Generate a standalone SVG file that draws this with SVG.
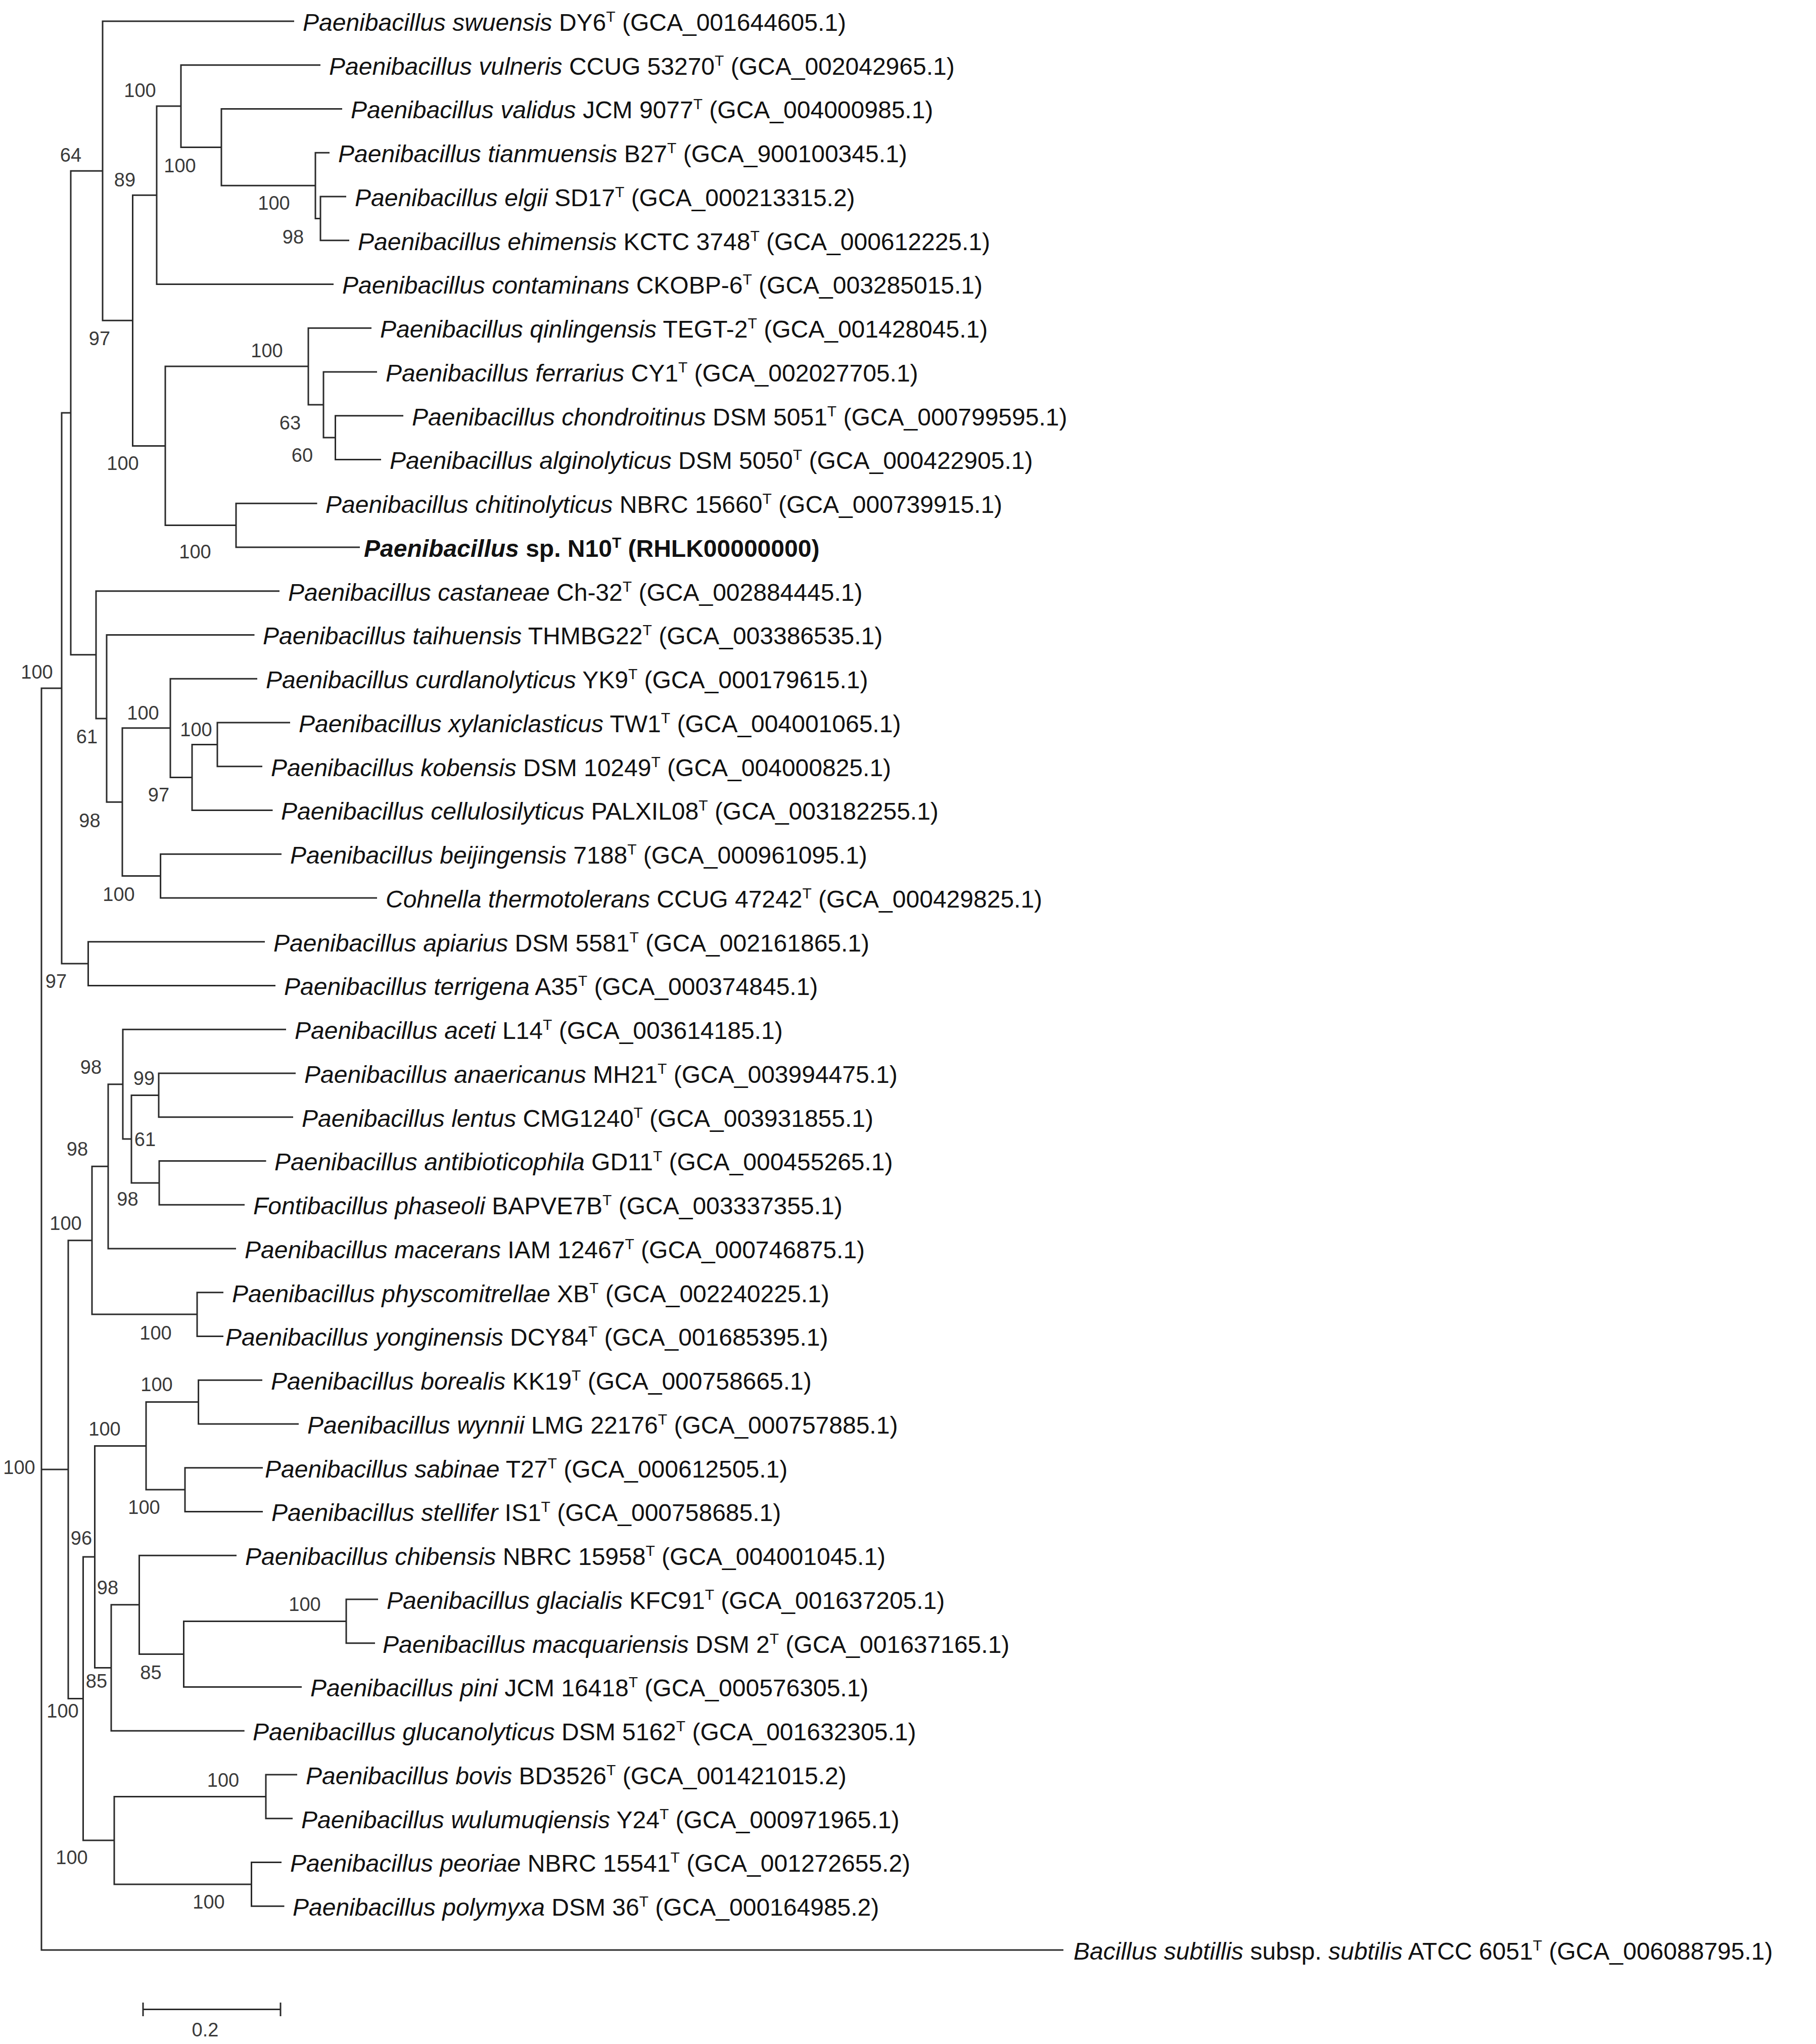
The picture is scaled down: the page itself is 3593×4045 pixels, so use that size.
<svg xmlns="http://www.w3.org/2000/svg" width="3593" height="4045" viewBox="0 0 3593 4045">
<style>
.e{fill:none;stroke:#2a2a2a;stroke-width:3}
.l{font-family:"Liberation Sans",Arial,sans-serif;font-size:48px;fill:#111}
.i{font-style:italic}
.b{font-family:"Liberation Sans",Arial,sans-serif;font-size:38px;fill:#3a3a3a;text-anchor:middle}
</style>
<rect width="3593" height="4045" fill="#fff"/>
<g id="connectors" class="e">
<path d="M122,1362 H82 V3859 H2104 M82,2908.1 H135"/>
<path d="M140,817 H122 V1907.1 H174.5"/>
<path d="M203,338.2 H140 V1295.8 H190"/>
<path d="M582,42 H203 V634.3 H262.5"/>
<path d="M310,386.3 H262.5 V882.4 H327"/>
<path d="M358,210 H310 V562.5 H660"/>
<path d="M634,128.75 H358 V291.4 H438"/>
<path d="M677,215.5 H438 V367.3 H624"/>
<path d="M652,302.25 H624 V432.4 H634"/>
<path d="M685,389 H634 V475.75 H691"/>
<path d="M610,725.1 H327 V1039.6 H467"/>
<path d="M735,649.25 H610 V801 H640"/>
<path d="M746,736 H640 V866.1 H663.5"/>
<path d="M798,822.75 H663.5 V909.5 H754"/>
<path d="M627.5,996.25 H467 V1083 H712"/>
<path d="M553,1169.75 H190 V1421.9 H211"/>
<path d="M503.5,1256.5 H211 V1587.2 H242"/>
<path d="M337,1440.8 H242 V1733.6 H317.6"/>
<path d="M509,1343.25 H337 V1538.4 H380"/>
<path d="M430,1473.4 H380 V1603.5 H539.5"/>
<path d="M574,1430 H430 V1516.75 H519"/>
<path d="M557,1690.25 H317.6 V1777 H746"/>
<path d="M524,1863.75 H174.5 V1950.5 H545"/>
<path d="M214,2308.3 H182 V2601.1 H390 M182,2454.7 H135 V3361.5 H164.5"/>
<path d="M243,2145.7 H214 V2471 H467"/>
<path d="M566,2037.25 H243 V2254.1 H260"/>
<path d="M314,2167.4 H260 V2340.9 H315"/>
<path d="M585,2124 H314 V2210.75 H580"/>
<path d="M526.5,2297.5 H315 V2384.25 H484"/>
<path d="M442,2557.75 H390 V2644.5 H442"/>
<path d="M187.5,3081 H164.5 V3642.1 H226"/>
<path d="M289,2861.4 H187.5 V3300.5 H220"/>
<path d="M392.6,2774.6 H289 V2948.1 H366"/>
<path d="M519,2731.25 H392.6 V2818 H591"/>
<path d="M520,2904.75 H366 V2991.5 H520"/>
<path d="M275.5,3175.8 H220 V3425.25 H483.7"/>
<path d="M468,3078.25 H275.5 V3273.4 H363.5"/>
<path d="M685,3208.4 H363.5 V3338.5 H597"/>
<path d="M748,3165 H685 V3251.75 H742"/>
<path d="M526,3555.4 H226 V3728.9 H497.5"/>
<path d="M588,3512 H526 V3598.75 H579"/>
<path d="M557,3685.5 H497.5 V3772.25 H562.5"/>
<path d="M283,3976.5 H555 M283,3963 V3990 M555,3963 V3990"/>
</g>
<g id="leaves" class="l">
<g id="t1"><text x="599" y="61"><tspan class="i">Paenibacillus swuensis</tspan> DY6<tspan font-size="30" dy="-18">T</tspan><tspan dy="18"> (GCA_001644605.1)</tspan></text></g>
<g id="t2"><text x="651" y="148"><tspan class="i">Paenibacillus vulneris</tspan> CCUG 53270<tspan font-size="30" dy="-18">T</tspan><tspan dy="18"> (GCA_002042965.1)</tspan></text></g>
<g id="t3"><text x="694" y="234"><tspan class="i">Paenibacillus validus</tspan> JCM 9077<tspan font-size="30" dy="-18">T</tspan><tspan dy="18"> (GCA_004000985.1)</tspan></text></g>
<g id="t4"><text x="669" y="321"><tspan class="i">Paenibacillus tianmuensis</tspan> B27<tspan font-size="30" dy="-18">T</tspan><tspan dy="18"> (GCA_900100345.1)</tspan></text></g>
<g id="t5"><text x="702" y="408"><tspan class="i">Paenibacillus elgii</tspan> SD17<tspan font-size="30" dy="-18">T</tspan><tspan dy="18"> (GCA_000213315.2)</tspan></text></g>
<g id="t6"><text x="708" y="495"><tspan class="i">Paenibacillus ehimensis</tspan> KCTC 3748<tspan font-size="30" dy="-18">T</tspan><tspan dy="18"> (GCA_000612225.1)</tspan></text></g>
<g id="t7"><text x="677" y="581"><tspan class="i">Paenibacillus contaminans</tspan> CKOBP-6<tspan font-size="30" dy="-18">T</tspan><tspan dy="18"> (GCA_003285015.1)</tspan></text></g>
<g id="t8"><text x="752" y="668"><tspan class="i">Paenibacillus qinlingensis</tspan> TEGT-2<tspan font-size="30" dy="-18">T</tspan><tspan dy="18"> (GCA_001428045.1)</tspan></text></g>
<g id="t9"><text x="763" y="755"><tspan class="i">Paenibacillus ferrarius</tspan> CY1<tspan font-size="30" dy="-18">T</tspan><tspan dy="18"> (GCA_002027705.1)</tspan></text></g>
<g id="t10"><text x="815" y="842"><tspan class="i">Paenibacillus chondroitinus</tspan> DSM 5051<tspan font-size="30" dy="-18">T</tspan><tspan dy="18"> (GCA_000799595.1)</tspan></text></g>
<g id="t11"><text x="771" y="928"><tspan class="i">Paenibacillus alginolyticus</tspan> DSM 5050<tspan font-size="30" dy="-18">T</tspan><tspan dy="18"> (GCA_000422905.1)</tspan></text></g>
<g id="t12"><text x="644" y="1015"><tspan class="i">Paenibacillus chitinolyticus</tspan> NBRC 15660<tspan font-size="30" dy="-18">T</tspan><tspan dy="18"> (GCA_000739915.1)</tspan></text></g>
<g id="t13"><text x="720" y="1102" font-weight="bold"><tspan class="i">Paenibacillus</tspan> sp. N10<tspan font-size="30" dy="-18">T</tspan><tspan dy="18"> (RHLK00000000)</tspan></text></g>
<g id="t14"><text x="570" y="1189"><tspan class="i">Paenibacillus castaneae</tspan> Ch-32<tspan font-size="30" dy="-18">T</tspan><tspan dy="18"> (GCA_002884445.1)</tspan></text></g>
<g id="t15"><text x="520" y="1275"><tspan class="i">Paenibacillus taihuensis</tspan> THMBG22<tspan font-size="30" dy="-18">T</tspan><tspan dy="18"> (GCA_003386535.1)</tspan></text></g>
<g id="t16"><text x="526" y="1362"><tspan class="i">Paenibacillus curdlanolyticus</tspan> YK9<tspan font-size="30" dy="-18">T</tspan><tspan dy="18"> (GCA_000179615.1)</tspan></text></g>
<g id="t17"><text x="591" y="1449"><tspan class="i">Paenibacillus xylaniclasticus</tspan> TW1<tspan font-size="30" dy="-18">T</tspan><tspan dy="18"> (GCA_004001065.1)</tspan></text></g>
<g id="t18"><text x="536" y="1536"><tspan class="i">Paenibacillus kobensis</tspan> DSM 10249<tspan font-size="30" dy="-18">T</tspan><tspan dy="18"> (GCA_004000825.1)</tspan></text></g>
<g id="t19"><text x="556" y="1622"><tspan class="i">Paenibacillus cellulosilyticus</tspan> PALXIL08<tspan font-size="30" dy="-18">T</tspan><tspan dy="18"> (GCA_003182255.1)</tspan></text></g>
<g id="t20"><text x="574" y="1709"><tspan class="i">Paenibacillus beijingensis</tspan> 7188<tspan font-size="30" dy="-18">T</tspan><tspan dy="18"> (GCA_000961095.1)</tspan></text></g>
<g id="t21"><text x="763" y="1796"><tspan class="i">Cohnella thermotolerans</tspan> CCUG 47242<tspan font-size="30" dy="-18">T</tspan><tspan dy="18"> (GCA_000429825.1)</tspan></text></g>
<g id="t22"><text x="541" y="1883"><tspan class="i">Paenibacillus apiarius</tspan> DSM 5581<tspan font-size="30" dy="-18">T</tspan><tspan dy="18"> (GCA_002161865.1)</tspan></text></g>
<g id="t23"><text x="562" y="1969"><tspan class="i">Paenibacillus terrigena</tspan> A35<tspan font-size="30" dy="-18">T</tspan><tspan dy="18"> (GCA_000374845.1)</tspan></text></g>
<g id="t24"><text x="583" y="2056"><tspan class="i">Paenibacillus aceti</tspan> L14<tspan font-size="30" dy="-18">T</tspan><tspan dy="18"> (GCA_003614185.1)</tspan></text></g>
<g id="t25"><text x="602" y="2143"><tspan class="i">Paenibacillus anaericanus</tspan> MH21<tspan font-size="30" dy="-18">T</tspan><tspan dy="18"> (GCA_003994475.1)</tspan></text></g>
<g id="t26"><text x="597" y="2230"><tspan class="i">Paenibacillus lentus</tspan> CMG1240<tspan font-size="30" dy="-18">T</tspan><tspan dy="18"> (GCA_003931855.1)</tspan></text></g>
<g id="t27"><text x="543" y="2316"><tspan class="i">Paenibacillus antibioticophila</tspan> GD11<tspan font-size="30" dy="-18">T</tspan><tspan dy="18"> (GCA_000455265.1)</tspan></text></g>
<g id="t28"><text x="501" y="2403"><tspan class="i">Fontibacillus phaseoli</tspan> BAPVE7B<tspan font-size="30" dy="-18">T</tspan><tspan dy="18"> (GCA_003337355.1)</tspan></text></g>
<g id="t29"><text x="484" y="2490"><tspan class="i">Paenibacillus macerans</tspan> IAM 12467<tspan font-size="30" dy="-18">T</tspan><tspan dy="18"> (GCA_000746875.1)</tspan></text></g>
<g id="t30"><text x="459" y="2577"><tspan class="i">Paenibacillus physcomitrellae</tspan> XB<tspan font-size="30" dy="-18">T</tspan><tspan dy="18"> (GCA_002240225.1)</tspan></text></g>
<g id="t31"><text x="446" y="2663"><tspan class="i">Paenibacillus yonginensis</tspan> DCY84<tspan font-size="30" dy="-18">T</tspan><tspan dy="18"> (GCA_001685395.1)</tspan></text></g>
<g id="t32"><text x="536" y="2750"><tspan class="i">Paenibacillus borealis</tspan> KK19<tspan font-size="30" dy="-18">T</tspan><tspan dy="18"> (GCA_000758665.1)</tspan></text></g>
<g id="t33"><text x="608" y="2837"><tspan class="i">Paenibacillus wynnii</tspan> LMG 22176<tspan font-size="30" dy="-18">T</tspan><tspan dy="18"> (GCA_000757885.1)</tspan></text></g>
<g id="t34"><text x="524" y="2924"><tspan class="i">Paenibacillus sabinae</tspan> T27<tspan font-size="30" dy="-18">T</tspan><tspan dy="18"> (GCA_000612505.1)</tspan></text></g>
<g id="t35"><text x="537" y="3010"><tspan class="i">Paenibacillus stellifer</tspan> IS1<tspan font-size="30" dy="-18">T</tspan><tspan dy="18"> (GCA_000758685.1)</tspan></text></g>
<g id="t36"><text x="485" y="3097"><tspan class="i">Paenibacillus chibensis</tspan> NBRC 15958<tspan font-size="30" dy="-18">T</tspan><tspan dy="18"> (GCA_004001045.1)</tspan></text></g>
<g id="t37"><text x="765" y="3184"><tspan class="i">Paenibacillus glacialis</tspan> KFC91<tspan font-size="30" dy="-18">T</tspan><tspan dy="18"> (GCA_001637205.1)</tspan></text></g>
<g id="t38"><text x="757" y="3271"><tspan class="i">Paenibacillus macquariensis</tspan> DSM 2<tspan font-size="30" dy="-18">T</tspan><tspan dy="18"> (GCA_001637165.1)</tspan></text></g>
<g id="t39"><text x="614" y="3357"><tspan class="i">Paenibacillus pini</tspan> JCM 16418<tspan font-size="30" dy="-18">T</tspan><tspan dy="18"> (GCA_000576305.1)</tspan></text></g>
<g id="t40"><text x="500" y="3444"><tspan class="i">Paenibacillus glucanolyticus</tspan> DSM 5162<tspan font-size="30" dy="-18">T</tspan><tspan dy="18"> (GCA_001632305.1)</tspan></text></g>
<g id="t41"><text x="605" y="3531"><tspan class="i">Paenibacillus bovis</tspan> BD3526<tspan font-size="30" dy="-18">T</tspan><tspan dy="18"> (GCA_001421015.2)</tspan></text></g>
<g id="t42"><text x="596" y="3618"><tspan class="i">Paenibacillus wulumuqiensis</tspan> Y24<tspan font-size="30" dy="-18">T</tspan><tspan dy="18"> (GCA_000971965.1)</tspan></text></g>
<g id="t43"><text x="574" y="3704"><tspan class="i">Paenibacillus peoriae</tspan> NBRC 15541<tspan font-size="30" dy="-18">T</tspan><tspan dy="18"> (GCA_001272655.2)</tspan></text></g>
<g id="t44"><text x="579" y="3791"><tspan class="i">Paenibacillus polymyxa</tspan> DSM 36<tspan font-size="30" dy="-18">T</tspan><tspan dy="18"> (GCA_000164985.2)</tspan></text></g>
<g id="t45"><text x="2124" y="3878"><tspan class="i">Bacillus subtillis</tspan> subsp. <tspan class="i">subtilis</tspan> ATCC 6051<tspan font-size="30" dy="-18">T</tspan><tspan dy="18"> (GCA_006088795.1)</tspan></text></g>
</g>
<g id="bootstrap" class="b">
<text x="140" y="320">64</text><text x="247" y="369">89</text><text x="197" y="683">97</text>
<text x="277" y="192">100</text><text x="356" y="341">100</text><text x="542" y="415">100</text>
<text x="580" y="482">98</text><text x="528" y="707">100</text><text x="574" y="850">63</text>
<text x="598" y="914">60</text><text x="243" y="930">100</text><text x="386" y="1105">100</text>
<text x="73" y="1343">100</text><text x="172" y="1471">61</text><text x="177.5" y="1637">98</text>
<text x="283" y="1424">100</text><text x="388" y="1457">100</text><text x="314" y="1586">97</text>
<text x="235" y="1783">100</text><text x="111" y="1955">97</text>
<text x="180" y="2125">98</text><text x="285" y="2147">99</text><text x="153" y="2287">98</text>
<text x="287" y="2268">61</text><text x="252.5" y="2386">98</text><text x="130" y="2434">100</text>
<text x="308" y="2651">100</text><text x="207" y="2841">100</text><text x="310" y="2753">100</text>
<text x="38" y="2917">100</text><text x="285" y="2996">100</text>
<text x="161" y="3057">96</text><text x="213" y="3155">98</text><text x="191" y="3340">85</text>
<text x="298.5" y="3323">85</text><text x="603" y="3188">100</text><text x="124" y="3399">100</text>
<text x="142" y="3689">100</text><text x="441.5" y="3536">100</text><text x="413" y="3777">100</text>
</g>
<g id="scale"><text class="b" x="406" y="4030">0.2</text></g>
</svg>
